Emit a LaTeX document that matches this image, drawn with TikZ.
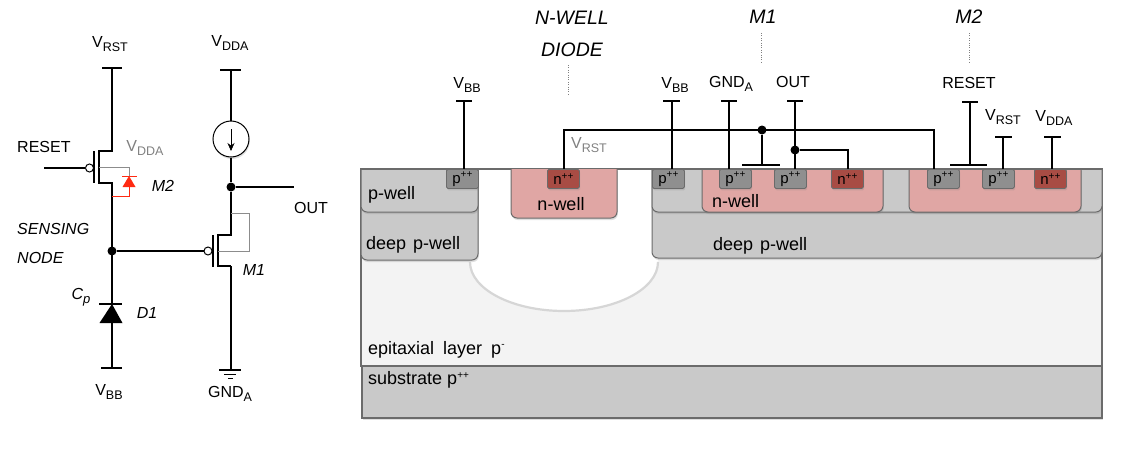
\documentclass[tikz,border=0pt]{standalone}
\usepackage{fontspec}
\setmainfont{Liberation Sans}
\usetikzlibrary{arrows.meta,shadows}
\newcommand{\vsub}[2]{#1\raisebox{-0.55ex}{\fontsize{12.5}{14}\selectfont #2}}
\newcommand{\psup}[1]{#1\raisebox{0.7ex}{\fontsize{10}{12}\selectfont ++}}
\tikzset{
  lbl/.style={inner sep=0pt,font=\fontsize{16}{18}\selectfont},
  lbllight/.style={lbl,font=\fontsize{18}{20}\selectfont},
  ital/.style={lbl,font=\fontsize{16}{18}\selectfont\itshape},
  titleital/.style={lbl,font=\fontsize{19.5}{22}\selectfont\itshape},
  wire/.style={line width=1.8pt,black},
  thinwire/.style={line width=1.3pt,black},
  body/.style={line width=0.8pt,black!45},
  dot/.style={circle,fill=black,inner sep=0pt,minimum size=9pt},
  softshadow/.style={drop shadow={shadow xshift=0.8pt,shadow yshift=-2pt,opacity=0.25}},
  well/.style={draw=black!58,line width=1pt,rounded corners=6pt,softshadow},
  contact/.style={draw=black!58,line width=0.8pt,rounded corners=1.5pt,inner sep=0pt,minimum height=19pt,minimum width=32pt,anchor=north west,font=\fontsize{15}{16}\selectfont,softshadow},
  pcontact/.style={contact,fill=pplus},
  ncontact/.style={contact,fill=nplus},
}
\definecolor{pplus}{HTML}{8F8F8F}
\definecolor{nplus}{HTML}{A84C44}
\definecolor{nwellc}{HTML}{E0A6A4}
\definecolor{pwellc}{HTML}{C9C9C9}
\definecolor{epic}{HTML}{F3F3F3}
\definecolor{diodered}{HTML}{FF2A12}

\begin{document}
\begin{tikzpicture}[x=1pt,y=-1pt]
\def\surfy{169}
\def\wellbot{212}
\useasboundingbox (0,0) rectangle (1122,460);

% SCHEMATIC, SENSING BRANCH
\coordinate (rsttop) at (112,68);
\coordinate (mtwod) at (112,151);
\coordinate (mtwos) at (112,183);
\coordinate (sense) at (112,251);
\coordinate (donetop) at (112,304);
\coordinate (donebot) at (112,323);
\coordinate (bbbot) at (112,368);
\draw[wire] (102,68) -- (122,68);
\draw[wire] (rsttop) -- (mtwod) -- (99,151) -- (99,183) -- (mtwos) -- (sense);
\draw[wire] (94,151) -- (94,183);
\node[circle,draw=black,line width=1pt,inner sep=0pt,minimum size=8pt] (mtwog) at (89.5,168) {};
\coordinate (resetin) at (44,168);
\draw[wire] (resetin) -- (mtwog);

% red diode of M2
\draw[body] (99,167) -- (129,167) -- (129,176);
\draw[line width=0.9pt,diodered] (122,176) -- (137,176);
\fill[diodered] (129,176) -- (135.5,187) -- (122.5,187) -- cycle;
\draw[line width=0.9pt,diodered] (129,187) -- (129,196) -- (112,196);

\node[dot] (sensedot) at (sense) {};
\draw[thinwire] (sense) -- (donetop);
\draw[thinwire] (99,304) -- (122,304);
\fill (112,304) -- (122.5,323) -- (99.5,323) -- cycle;
\draw[thinwire] (donebot) -- (bbbot);
\draw[thinwire] (101,368) -- (122,368);

% SCHEMATIC, OUTPUT BRANCH
\coordinate (ddatop) at (231,70);
\node[circle,draw=black,line width=1pt,fill=white,minimum size=36pt,inner sep=0pt,softshadow] (isrc) at (231,139) {};
\node[dot] (outdot) at (231,187) {};
\coordinate (outend) at (294,187);
\coordinate (monegnd) at (231,370);
\draw[thinwire] (220,70) -- (241,70);
\draw[thinwire] (ddatop) -- (isrc);
\draw[-{Stealth[length=8pt,width=7pt]},line width=0.7pt] (231,129) -- (231,151);
\draw[wire] (isrc) -- (outdot) -- (231,235) -- (218,235) -- (218,266) -- (231,266);
\draw[thinwire] (outdot) -- (outend);
\draw[wire] (213,235) -- (213,267);
\draw[thinwire] (231,266) -- (monegnd);
\draw[body] (231,213) -- (249,213) -- (249,251) -- (218,251);
\node[circle,draw=black,line width=1pt,inner sep=0pt,minimum size=8pt] (moneg) at (208,251) {};
\draw[wire] (sensedot) -- (moneg);
\draw[thinwire] (219,370) -- (241,370);
\draw[line width=0.9pt] (224,374) -- (236,374);
\draw[line width=0.9pt] (228,378) -- (233,378);

% SCHEMATIC LABELS
\node[lbl] (lrst) at (110,44) {\vsub{V}{RST}};
\node[lbl] (lddb) at (230,43) {\vsub{V}{DDA}};
\node[lbl,anchor=west] (lreset) at (17,147) {RESET};
\node[lbl,text=black!50] (lddg) at (145,148) {\vsub{V}{DDA}};
\node[ital] (lmtwo) at (163,186) {M2};
\node[lbl] (lout) at (311,208) {OUT};
\node[ital,anchor=west] (lsens) at (17,229) {SENSING};
\node[ital,anchor=west] (lnode) at (17,258) {NODE};
\node[ital] (lcp) at (81,297) {C\raisebox{-0.5ex}{\fontsize{13}{14}\selectfont p}};
\node[ital] (ldone) at (147,313) {D1};
\node[ital] (lmone) at (254,270) {M1};
\node[lbl] (lbb) at (109,392) {\vsub{V}{BB}};
\node[lbl] (lgnd) at (230,394) {\vsub{GND}{A}};

% CROSS SECTION, LAYERS
\draw[draw=black!58,line width=1.2pt,fill=epic] (361,\surfy) rectangle (1102,366);
\draw[draw=black!58,line width=1.2pt,fill=pwellc,softshadow] (362,366) rectangle (1102,418);
\fill[white] (470,\surfy) rectangle (658,262);
\draw[line width=2.2pt,draw=black!16,fill=white] (470,262) arc[start angle=180,end angle=0,x radius=94,y radius=49];
\fill[white] (471,\surfy+1) rectangle (657,262);
\draw[draw=black!58,line width=0.8pt] (478,\surfy) -- (652,\surfy);

% left stack
\draw[well,fill=pwellc] (361,\surfy) -- (361,260) -- (478,260) -- (478,\surfy);
\draw[well,fill=pwellc] (361,\surfy) -- (361,212) -- (478,212) -- (478,\surfy);
\node[pcontact] (pleft) at (446,\surfy) {\psup{p}};

% diode well
\draw[well,fill=nwellc] (511,\surfy) -- (511,218) -- (617,218) -- (617,\surfy);
\node[ncontact] (ndiode) at (547,\surfy) {\psup{n}};

% right stack
\draw[well,fill=pwellc] (652,\surfy) -- (652,258) -- (1102,258) -- (1102,\surfy);
\draw[well,fill=pwellc] (652,\surfy) -- (652,\wellbot) -- (1102,\wellbot) -- (1102,\surfy);
\draw[well,fill=nwellc] (702,\surfy) -- (702,\wellbot) -- (883,\wellbot) -- (883,\surfy);
\draw[well,fill=nwellc] (909,\surfy) -- (909,\wellbot) -- (1081,\wellbot) -- (1081,\surfy);
\node[pcontact] (pbb) at (652,\surfy) {\psup{p}};
\node[pcontact] (pmonea) at (719,\surfy) {\psup{p}};
\node[pcontact] (pmoneb) at (774,\surfy) {\psup{p}};
\node[ncontact] (nmone) at (831,\surfy) {\psup{n}};
\node[pcontact] (pmtwoa) at (927,\surfy) {\psup{p}};
\node[pcontact] (pmtwob) at (982,\surfy) {\psup{p}};
\node[ncontact] (nmtwo) at (1034,\surfy) {\psup{n}};
\draw[draw=black!58,line width=1.2pt] (361,\surfy) -- (478,\surfy) (652,\surfy) -- (1102,\surfy);

% CROSS SECTION, WIRES
\draw[wire] (456,101) -- (472,101);
\draw[wire] (464,101) -- (464,\surfy);
\draw[wire] (663,101) -- (680,101);
\draw[wire] (672,101) -- (672,\surfy);
\draw[wire] (721,101) -- (737,101);
\draw[wire] (729,101) -- (729,\surfy);
\draw[wire] (787,101) -- (803,101);
\draw[wire] (795,101) -- (795,\surfy);
\draw[wire] (564,\surfy) -- (564,130) -- (934,130) -- (934,\surfy);
\node[dot] (rstdot) at (762,130) {};
\draw[wire] (rstdot) -- (762,165);
\draw[wire] (742,165) -- (780,165);
\node[dot] (outxdot) at (795,150) {};
\draw[wire] (outxdot) -- (848,150) -- (848,\surfy);
\draw[wire] (962,102) -- (978,102);
\draw[wire] (970,102) -- (970,165);
\draw[wire] (950,165) -- (987,165);
\draw[wire] (995,137) -- (1012,137);
\draw[wire] (1003,137) -- (1003,\surfy);
\draw[wire] (1044,137) -- (1061,137);
\draw[wire] (1052,137) -- (1052,\surfy);

% CROSS SECTION LABELS
\node[lbllight,anchor=west] (lpwell) at (368,195) {p-well};
\node[lbllight,anchor=west] (ldeepl) at (366,245) {deep\hspace{2pt} p-well};
\node[lbllight] (lnwd) at (561,204) {n-well};
\node[lbllight,anchor=west] (lnwell) at (712,201) {n-well};
\node[lbllight,anchor=west] (ldeepr) at (713,246) {deep\hspace{2pt} p-well};
\node[lbllight,anchor=west] (lepi) at (368,350) {epitaxial\hspace{4pt} layer\hspace{4pt} p\raisebox{0.7ex}{\fontsize{10}{12}\selectfont -}};
\node[lbllight,anchor=west] (lsub) at (368,380) {substrate \psup{p}};
\node[lbl] (lbba) at (467,85) {\vsub{V}{BB}};
\node[lbl] (lbbb) at (675,85) {\vsub{V}{BB}};
\node[lbl] (lgndx) at (731,84) {\vsub{GND}{A}};
\node[lbl] (loutx) at (793,82) {OUT};
\node[lbl] (lresetx) at (969,83) {RESET};
\node[lbl] (lrstx) at (1003,117) {\vsub{V}{RST}};
\node[lbl] (lddx) at (1054,118) {\vsub{V}{DDA}};
\node[lbl,text=black!50] (lrstg) at (589,145) {\vsub{V}{RST}};
\node[titleital] (ltitlea) at (572,18) {N-WELL};
\node[titleital] (ltitleb) at (572,50) {DIODE};
\node[titleital] (ltitlem) at (763,17) {M1};
\node[titleital] (ltitlen) at (969,17) {M2};
\draw[dotted,black!50] (568,65) -- (568,95);
\draw[dotted,black!50] (761,33) -- (761,62);
\draw[dotted,black!50] (969,33) -- (969,62);
\end{tikzpicture}
\end{document}
